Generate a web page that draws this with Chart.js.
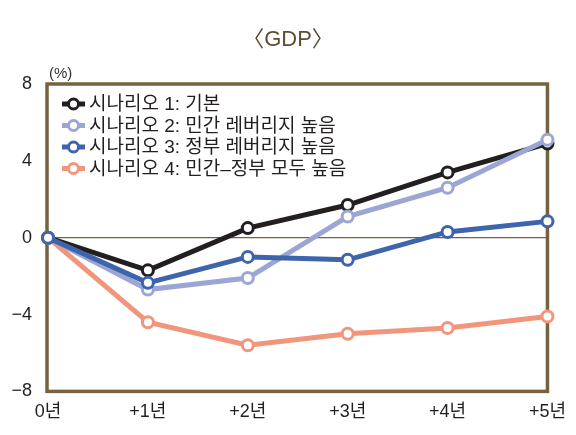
<!DOCTYPE html>
<html lang="ko">
<head>
<meta charset="utf-8"/>
<title>GDP</title>
<script src="https://cdn.jsdelivr.net/npm/chart.js"></script>
<style>
    html, body { margin: 0; padding: 0; background: #ffffff; }
    .chart-box { width: 576px; height: 435px; position: relative; }
</style>
</head>
<body>
<div class="chart-box">
<canvas id="gdpChart"></canvas>
</div>
<script>
    // 데이터
    const chartTitle = '〈GDP〉';
    const years = ['0년', '+1년', '+2년', '+3년', '+4년', '+5년'];
    const seriesNames = [
        '시나리오 1: 기본',
        '시나리오 2: 민간 레버리지 높음',
        '시나리오 3: 정부 레버리지 높음',
        '시나리오 4: 민간–정부 모두 높음'
    ];
    const scenario1 = [0, -1.7, 0.5, 1.7, 3.4, 4.9];
    const scenario2 = [0, -2.7, -2.1, 1.1, 2.6, 5.1];
    const scenario3 = [0, -2.35, -1.0, -1.15, 0.3, 0.85];
    const scenario4 = [0, -4.4, -5.6, -5.0, -4.7, -4.1];
    const yTicks = [-8, -4, 0, 4, 8];

    const colors = ['#231f20', '#9ba6d4', '#3d64ad', '#f1957b'];
    const frameColor = '#76623f';
    const fontFamily = "'Liberation Sans', 'Noto Sans CJK KR', sans-serif";

    // 제목, 테두리, (%) 표시, 범례
    const decorPlugin = {
        id: 'decor',
        beforeDatasetsDraw(chart) {
            const { ctx, chartArea: a, width } = chart;
            ctx.save();
            ctx.fillStyle = '#5e4d33';
            ctx.font = '22px ' + fontFamily;
            ctx.textAlign = 'center';
            ctx.textBaseline = 'middle';
            ctx.fillText(chartTitle, width / 2, 40);

            ctx.strokeStyle = frameColor;
            ctx.lineWidth = 3.5;
            ctx.strokeRect(a.left - 1, a.top, a.right - a.left + 1, a.bottom - a.top);
            ctx.fillStyle = '#333333';
            ctx.font = '15px ' + fontFamily;
            ctx.textAlign = 'left';
            ctx.textBaseline = 'bottom';
            ctx.fillText('(%)', a.left + 1, a.top - 3);
            ctx.restore();
        },
        afterDraw(chart) {
            const { ctx, chartArea: a } = chart;
            ctx.save();
            ctx.font = '19px ' + fontFamily;
            ctx.textBaseline = 'middle';
            seriesNames.forEach((name, i) => {
                const y = a.top + 20 + i * 21.5;
                ctx.strokeStyle = colors[i];
                ctx.lineWidth = 5;
                ctx.beginPath();
                ctx.moveTo(a.left + 14, y);
                ctx.lineTo(a.left + 37, y);
                ctx.stroke();
                ctx.beginPath();
                ctx.arc(a.left + 25.5, y, 5, 0, Math.PI * 2);
                ctx.fillStyle = '#ffffff';
                ctx.fill();
                ctx.lineWidth = 3;
                ctx.stroke();
                ctx.fillStyle = '#231f20';
                ctx.fillText(name, a.left + 41, y + 1);
            });
            ctx.restore();
        }
    };

    const allSeries = [scenario1, scenario2, scenario3, scenario4];
    const drawOrder = [2, 1, 0, 3];

    new Chart(document.getElementById('gdpChart'), {
        type: 'line',
        data: {
            labels: years,
            datasets: allSeries.map((values, i) => ({
                label: seriesNames[i],
                data: values,
                borderColor: colors[i],
                backgroundColor: '#ffffff',
                borderWidth: 5,
                pointRadius: 5.5,
                pointBorderWidth: 3,
                pointBackgroundColor: '#ffffff',
                pointBorderColor: colors[i],
                tension: 0,
                clip: false,
                order: drawOrder[i]
            }))
        },
        options: {
            responsive: true,
            maintainAspectRatio: false,
            animation: false,
            layout: { padding: { left: 4, right: 26, top: 84, bottom: 2 } },
            scales: {
                x: {
                    offset: false,
                    grid: { display: false, drawTicks: false },
                    border: { display: false },
                    ticks: {
                        color: '#231f20',
                        padding: 10,
                        font: { size: 18, family: fontFamily }
                    }
                },
                y: {
                    min: yTicks[0],
                    max: yTicks[yTicks.length - 1],
                    afterBuildTicks(scale) {
                        scale.ticks = yTicks.map(v => ({ value: v }));
                    },
                    afterFit(scale) {
                        scale.width = 44;
                    },
                    grid: {
                        drawTicks: false,
                        color: ctx => ctx.tick && ctx.tick.value === 0 ? frameColor : 'rgba(0,0,0,0)',
                        lineWidth: 1.2
                    },
                    border: { display: false },
                    ticks: {
                        color: '#231f20',
                        padding: 16,
                        font: { size: 18, family: fontFamily },
                        callback: v => String(v).replace('-', '−')
                    }
                }
            },
            plugins: {
                legend: { display: false },
                tooltip: { enabled: false },
                title: { display: false }
            }
        },
        plugins: [decorPlugin]
    });
</script>
</body>
</html>
